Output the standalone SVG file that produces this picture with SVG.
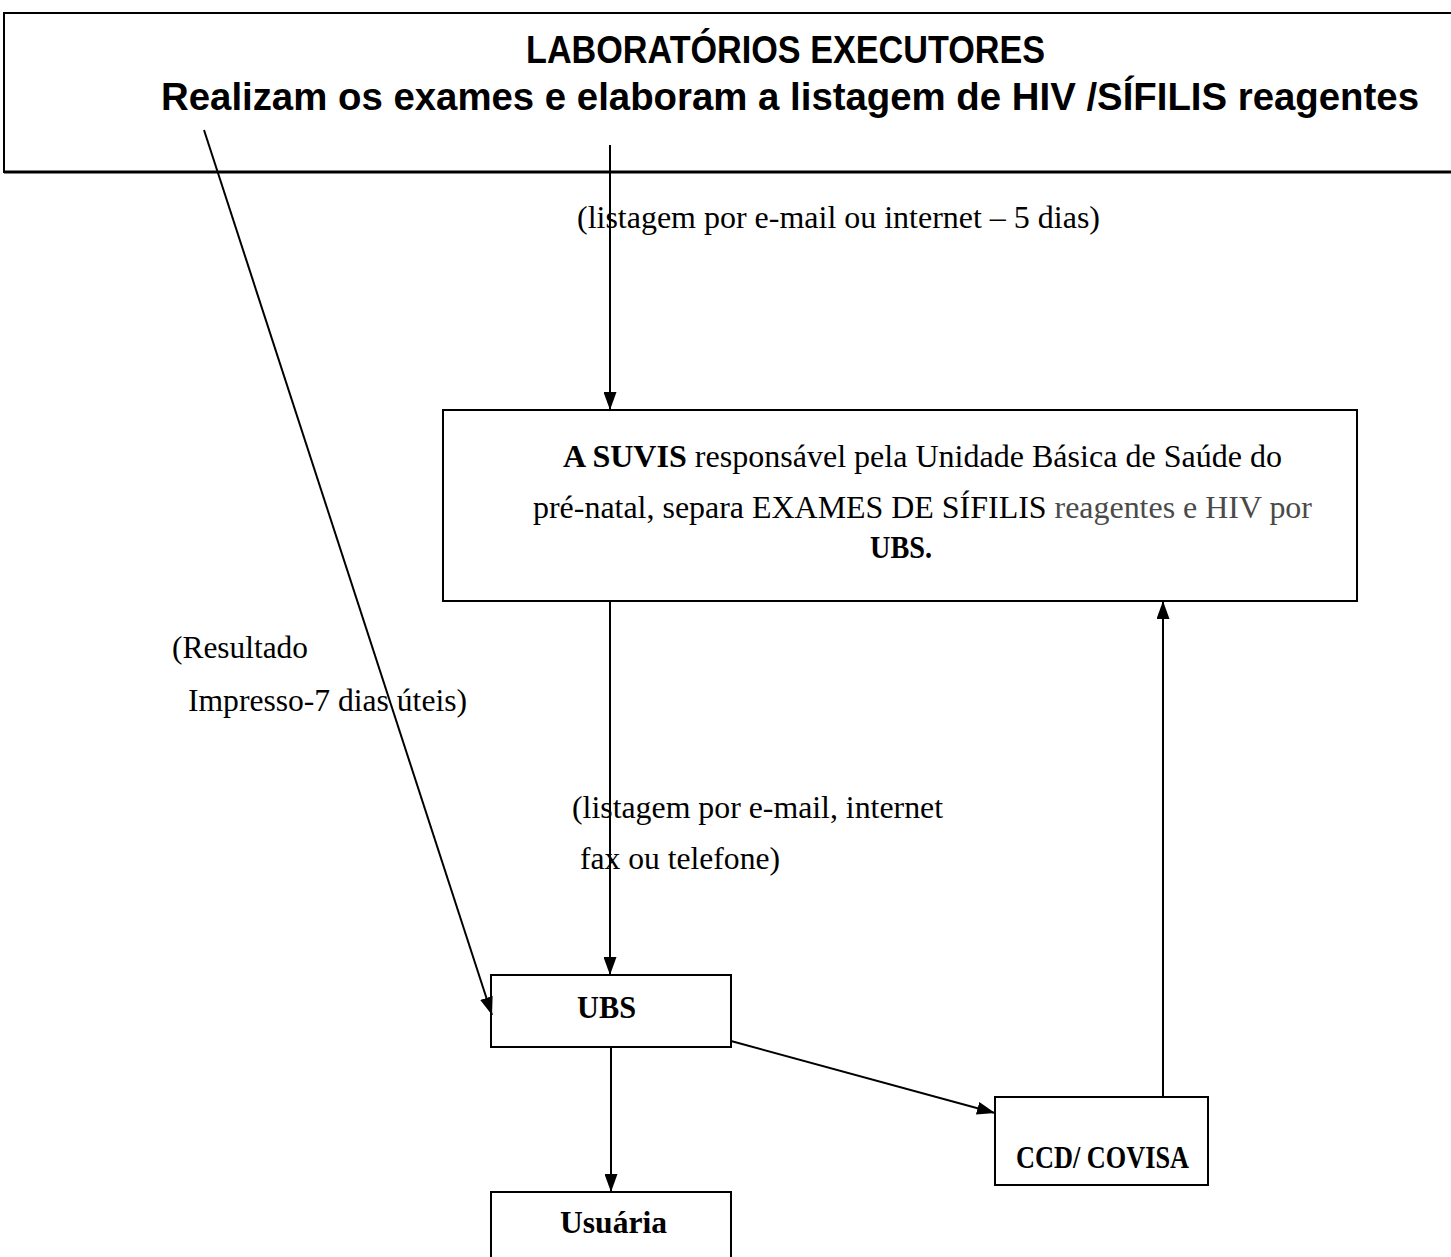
<svg xmlns="http://www.w3.org/2000/svg" width="1451" height="1257" viewBox="0 0 1451 1257">
<style>
.box{fill:#fff;stroke:#000;stroke-width:2}
.ln{stroke:#000;stroke-width:2;fill:none}
.t{font-family:"Liberation Serif","Times New Roman",serif;font-size:31px;fill:#000}
.b{font-weight:bold}
.h{font-family:"Liberation Sans",Arial,sans-serif;font-weight:bold;font-size:38px;fill:#000}
</style>
<defs>
<marker id="av" markerWidth="18" markerHeight="13" refX="18" refY="6.5" orient="auto" markerUnits="userSpaceOnUse" viewBox="0 0 18 13">
<path d="M0,0 L18,6.5 L0,13 z" fill="#000"/>
</marker>
</defs>
<rect width="1451" height="1257" fill="#fff"/>
<g id="labs">
<path d="M1460,13 H4 V172 H1460" class="box"/>
<line x1="4" y1="172" x2="1451" y2="172" stroke="#000" stroke-width="3"/>
<text class="h" x="526" y="63" textLength="519" lengthAdjust="spacingAndGlyphs">LABORATÓRIOS EXECUTORES</text>
<text class="h" x="161" y="110" textLength="1258" lengthAdjust="spacingAndGlyphs">Realizam os exames e elaboram a listagem de HIV /SÍFILIS reagentes</text>
</g>
<g id="suvis">
<rect x="443" y="410" width="914" height="191" class="box"/>
<text class="t" x="563" y="467" textLength="719" lengthAdjust="spacingAndGlyphs"><tspan class="b">A SUVIS</tspan> responsável pela Unidade Básica de Saúde do</text>
<text class="t" x="533" y="518" textLength="779" lengthAdjust="spacingAndGlyphs">pré-natal, separa EXAMES DE SÍFILIS <tspan fill="#4a4a4a">reagentes e HIV por</tspan></text>
<text class="t b" x="901" y="558" text-anchor="middle" textLength="62" lengthAdjust="spacingAndGlyphs">UBS.</text>
</g>
<g id="ubs">
<rect x="491" y="975" width="240" height="72" class="box"/>
<text class="t b" x="577" y="1018" textLength="59" lengthAdjust="spacingAndGlyphs">UBS</text>
</g>
<g id="usuaria">
<rect x="491" y="1192" width="240" height="80" class="box"/>
<text class="t b" x="560" y="1233" textLength="107" lengthAdjust="spacingAndGlyphs">Usuária</text>
</g>
<g id="ccd">
<rect x="995" y="1097" width="213" height="88" class="box"/>
<text class="t b" x="1016" y="1168" font-size="26" textLength="173" lengthAdjust="spacingAndGlyphs">CCD/ COVISA</text>
</g>
<g id="connectors">
<line x1="610" y1="145" x2="610" y2="410" class="ln" marker-end="url(#av)"/>
<line x1="204" y1="130" x2="492" y2="1015" class="ln" marker-end="url(#av)"/>
<line x1="610" y1="601" x2="610" y2="975" class="ln" marker-end="url(#av)"/>
<line x1="611" y1="1047" x2="611" y2="1192" class="ln" marker-end="url(#av)"/>
<line x1="731" y1="1041" x2="995" y2="1113" class="ln" marker-end="url(#av)"/>
<line x1="1163" y1="1097" x2="1163" y2="601" class="ln" marker-end="url(#av)"/>
</g>
<g id="labels">
<text class="t" x="577" y="228" textLength="523" lengthAdjust="spacingAndGlyphs">(listagem por e-mail ou internet – 5 dias)</text>
<text class="t" x="172" y="658" textLength="136" lengthAdjust="spacingAndGlyphs">(Resultado</text>
<text class="t" x="188" y="711" textLength="279" lengthAdjust="spacingAndGlyphs">Impresso-7 dias úteis)</text>
<text class="t" x="572" y="818" textLength="371" lengthAdjust="spacingAndGlyphs">(listagem por e-mail, internet</text>
<text class="t" x="580" y="869" textLength="200" lengthAdjust="spacingAndGlyphs">fax ou telefone)</text>
</g>
</svg>
